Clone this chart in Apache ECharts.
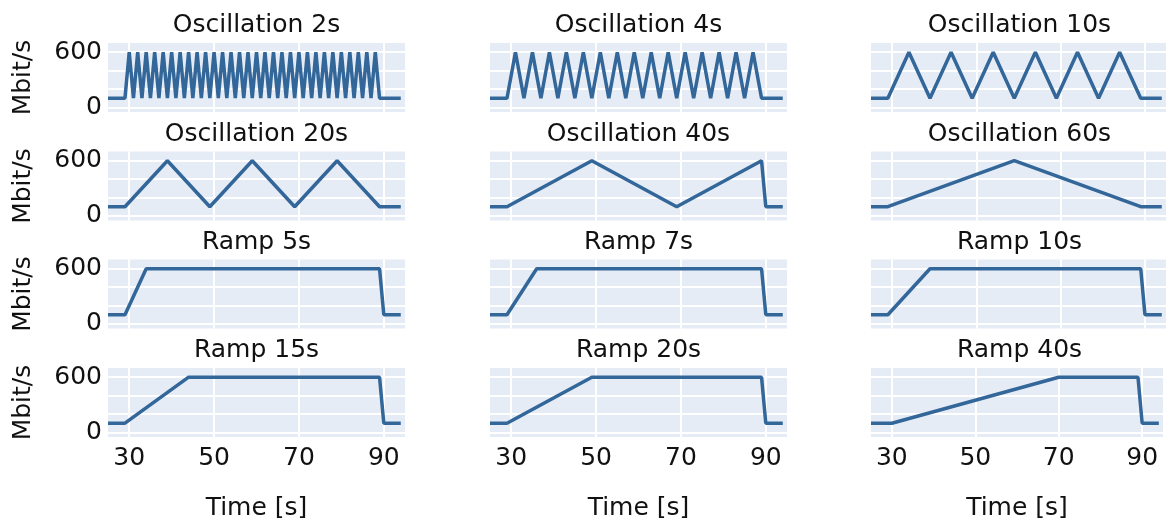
<!DOCTYPE html>
<html>
<head>
<meta charset="utf-8">
<script src="https://cdn.jsdelivr.net/npm/echarts@6/dist/echarts.min.js"></script>
<style>
  html, body { margin: 0; padding: 0; background: #fff; }
  #chart { width: 1166px; height: 525px; }
</style>
</head>
<body>
<div id="chart"></div>
<script>
// [time in s, rate in Mbit/s]
const osc2s = [[25,100],[29,100],[30,600],[31,100],[32,600],[33,100],[34,600],[35,100],[36,600],[37,100],
  [38,600],[39,100],[40,600],[41,100],[42,600],[43,100],[44,600],[45,100],[46,600],[47,100],[48,600],[49,100],
  [50,600],[51,100],[52,600],[53,100],[54,600],[55,100],[56,600],[57,100],[58,600],[59,100],[60,600],[61,100],
  [62,600],[63,100],[64,600],[65,100],[66,600],[67,100],[68,600],[69,100],[70,600],[71,100],[72,600],[73,100],
  [74,600],[75,100],[76,600],[77,100],[78,600],[79,100],[80,600],[81,100],[82,600],[83,100],[84,600],[85,100],
  [86,600],[87,100],[88,600],[89,100],[94,100]]
const osc4s = [[25,100],[29,100],[31,600],[33,100],[35,600],[37,100],[39,600],[41,100],[43,600],[45,100],
  [47,600],[49,100],[51,600],[53,100],[55,600],[57,100],[59,600],[61,100],[63,600],[65,100],[67,600],[69,100],
  [71,600],[73,100],[75,600],[77,100],[79,600],[81,100],[83,600],[85,100],[87,600],[89,100],[94,100]]
const osc10s = [[25,100],[29,100],[34,600],[39,100],[44,600],[49,100],[54,600],[59,100],[64,600],[69,100],
  [74,600],[79,100],[84,600],[89,100],[94,100]]
const osc20s = [[25,100],[29,100],[39,600],[49,100],[59,600],[69,100],[79,600],[89,100],[94,100]]
const osc40s = [[25,100],[29,100],[49,600],[69,100],[89,600],[90,100],[94,100]]
const osc60s = [[25,100],[29,100],[59,600],[89,100],[94,100]]
const ramp5s = [[25,100],[29,100],[34,600],[89,600],[90,100],[94,100]]
const ramp7s = [[25,100],[29,100],[36,600],[89,600],[90,100],[94,100]]
const ramp10s = [[25,100],[29,100],[39,600],[89,600],[90,100],[94,100]]
const ramp15s = [[25,100],[29,100],[44,600],[89,600],[90,100],[94,100]]
const ramp20s = [[25,100],[29,100],[49,600],[89,600],[90,100],[94,100]]
const ramp40s = [[25,100],[30,100],[70,600],[89,600],[90,100],[94,100]]

const titles = ['Oscillation 2s', 'Oscillation 4s', 'Oscillation 10s',
  'Oscillation 20s', 'Oscillation 40s', 'Oscillation 60s',
  'Ramp 5s', 'Ramp 7s', 'Ramp 10s',
  'Ramp 15s', 'Ramp 20s', 'Ramp 40s']
const panels = [osc2s, osc4s, osc10s, osc20s, osc40s, osc60s,
  ramp5s, ramp7s, ramp10s, ramp15s, ramp20s, ramp40s]
const xTickLabels = [30, 50, 70, 90]
const yTickLabels = [0, 600]
const yName = 'Mbit/s'
const xName = 'Time [s]'

const colLeft = [108, 490, 871]
const rowTop = [43, 151.5, 259.5, 368]
const panelW = 297
const panelH = 69
const bg = '#E5ECF6'
const lineColor = '#336699'
const font = 'DejaVu Sans'
const textColor = '#111111'
const none = 'rgba(0,0,0,0)'

const chart = echarts.init(document.getElementById('chart'))

const grid = [], xAxis = [], yAxis = [], series = [], title = []
panels.forEach((data, i) => {
  const row = Math.floor(i / 3)
  const col = i % 3
  grid.push({
    left: colLeft[col], top: rowTop[row], width: panelW, height: panelH,
    show: true, backgroundColor: bg, borderWidth: 0
  })
  title.push({
    text: titles[i],
    left: colLeft[col] + panelW / 2,
    top: rowTop[row] - 30,
    textAlign: 'center',
    padding: 0,
    textStyle: { fontFamily: font, fontSize: 25, fontWeight: 'normal', color: textColor }
  })
  const bottom = row === 3
  xAxis.push({
    type: 'value', gridIndex: i, min: 25, max: 95, interval: 5,
    axisLine: { show: false }, axisTick: { show: false },
    axisLabel: {
      show: bottom, margin: 9,
      fontFamily: font, fontSize: 25, color: textColor,
      formatter: v => xTickLabels.includes(v) ? String(v) : ''
    },
    splitLine: { show: true, showMinLine: true, showMaxLine: true,
      lineStyle: { color: [none, '#ffffff', none, none], width: 2 } },
    name: bottom ? xName : '',
    nameLocation: 'middle', nameGap: 59,
    nameTextStyle: { fontFamily: font, fontSize: 25, color: textColor }
  })
  const left = col === 0
  yAxis.push({
    type: 'value', gridIndex: i, min: -50, max: 700, interval: 50,
    axisLine: { show: false }, axisTick: { show: false },
    axisLabel: {
      show: left, margin: 6,
      fontFamily: font, fontSize: 25, color: textColor,
      formatter: v => yTickLabels.includes(v) ? String(v) : ''
    },
    splitLine: { show: true, showMinLine: true, showMaxLine: true,
      lineStyle: { color: [none, '#ffffff', none, none], width: 2 } },
    name: left ? yName : '',
    nameLocation: 'middle', nameGap: 72, nameRotate: 90,
    nameTextStyle: { fontFamily: font, fontSize: 25, color: textColor }
  })
  series.push({
    type: 'line', xAxisIndex: i, yAxisIndex: i,
    data: data, symbol: 'none',
    lineStyle: { color: lineColor, width: 3.5 },
    z: 3
  })
})

chart.setOption({
  animation: false,
  title: title,
  grid: grid,
  xAxis: xAxis,
  yAxis: yAxis,
  series: series
})
</script>
</body>
</html>
